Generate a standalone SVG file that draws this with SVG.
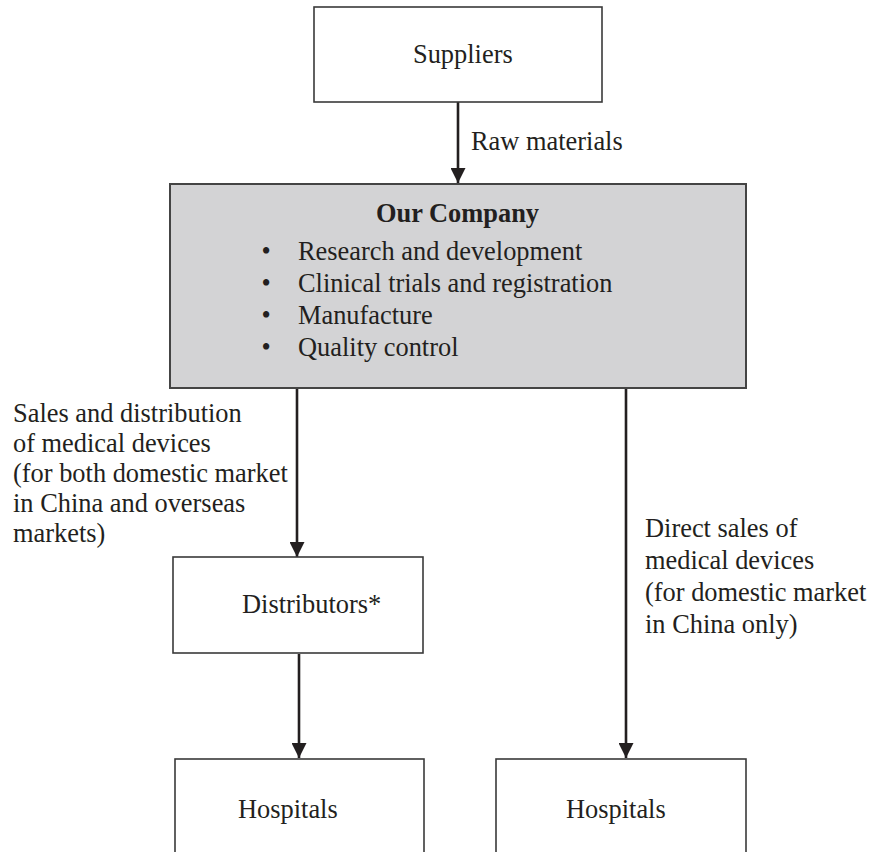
<svg xmlns="http://www.w3.org/2000/svg" width="871" height="852" viewBox="0 0 871 852">
<style>
text{font-family:"Liberation Serif","Times New Roman",serif;font-size:26.4px;fill:#231f20}
.b{font-weight:bold}
.box{fill:#fff;stroke:#3a3a3a;stroke-width:1.6}
.co{fill:#d3d3d5;stroke:#444;stroke-width:2}
.ln{stroke:#231f20;stroke-width:2.6;fill:none}
</style>
<defs>
<marker id="ah" markerUnits="userSpaceOnUse" markerWidth="16" markerHeight="15" refX="15" refY="7.5" orient="auto">
<path d="M0,0 L15,7.5 L0,15 Z" fill="#231f20"/>
</marker>
</defs>
<rect width="871" height="852" fill="#fff"/>
<g id="connectors">
<line class="ln" x1="458" y1="102" x2="458" y2="183" marker-end="url(#ah)"/>
<line class="ln" x1="297" y1="388" x2="297" y2="557" marker-end="url(#ah)"/>
<line class="ln" x1="299" y1="654" x2="299" y2="758" marker-end="url(#ah)"/>
<line class="ln" x1="626" y1="388" x2="626" y2="758" marker-end="url(#ah)"/>
</g>
<g id="suppliers">
<rect class="box" x="314" y="7" width="288" height="95"/>
<text x="413" y="63">Suppliers</text>
</g>
<text x="471" y="150">Raw materials</text>
<g id="company">
<rect class="co" x="170" y="184" width="576" height="204"/>
<text class="b" x="457.5" y="222" text-anchor="middle">Our Company</text>
<text x="266" y="260" text-anchor="middle">•</text>
<text x="298" y="260">Research and development</text>
<text x="266" y="292" text-anchor="middle">•</text>
<text x="298" y="292">Clinical trials and registration</text>
<text x="266" y="324" text-anchor="middle">•</text>
<text x="298" y="324">Manufacture</text>
<text x="266" y="356" text-anchor="middle">•</text>
<text x="298" y="356">Quality control</text>
</g>
<g id="label-left">
<text x="13" y="422">Sales and distribution</text>
<text x="13" y="452">of medical devices</text>
<text x="13" y="482">(for both domestic market</text>
<text x="13" y="512">in China and overseas</text>
<text x="13" y="542">markets)</text>
</g>
<g id="label-right">
<text x="645" y="537">Direct sales of</text>
<text x="645" y="569">medical devices</text>
<text x="645" y="601">(for domestic market</text>
<text x="645" y="633">in China only)</text>
</g>
<g id="distributors">
<rect class="box" x="173" y="557" width="250" height="96"/>
<text x="242" y="613">Distributors*</text>
</g>
<g id="hospitals-left">
<rect class="box" x="175" y="759" width="249" height="110"/>
<text x="238" y="818">Hospitals</text>
</g>
<g id="hospitals-right">
<rect class="box" x="496" y="759" width="250" height="110"/>
<text x="566" y="818">Hospitals</text>
</g>
</svg>
